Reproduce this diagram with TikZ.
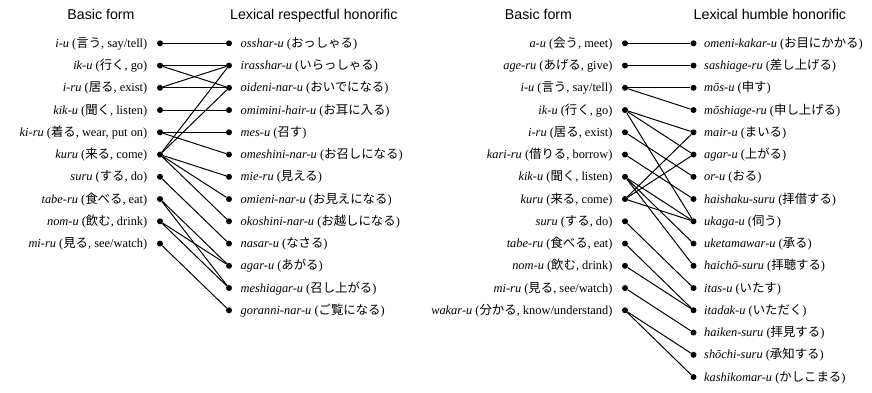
\documentclass[tikz,border=0pt]{standalone}
\usepackage{fontspec}
\setmainfont{Liberation Serif}
\newfontfamily\hdrfont{Liberation Sans}
\newfontfamily\cjkfont{Noto Sans CJK JP}
\newcommand{\jp}[1]{{\cjkfont #1}}
\begin{document}
\begin{tikzpicture}[x=1pt,y=-1pt,
  dot/.style={circle,fill=black,inner sep=0pt,minimum size=6pt},
  link/.style={line width=1pt},
  lbl/.style={inner sep=0pt,font=\fontsize{12.4}{14}\selectfont},
  lbll/.style={lbl,anchor=base east},
  lblr/.style={lbl,anchor=base west},
  hdr/.style={inner sep=0pt,anchor=base,font=\hdrfont\fontsize{14.2}{16}\selectfont}]
\useasboundingbox (0,0) rectangle (872,393);

% headers
\node[hdr] (h1) at (101,19.5) {Basic form};
\node[hdr,anchor=base west] (h2) at (230,19.5) {Lexical respectful honorific};
\node[hdr] (h3) at (538.5,19.5) {Basic form};
\node[hdr,anchor=base west] (h4) at (693.5,19.5) {Lexical humble honorific};

% ---------------- left panel ----------------
\node[dot] (a0) at (160,43.3) {};
\node[dot] (a1) at (160,65.55) {};
\node[dot] (a2) at (160,87.8) {};
\node[dot] (a3) at (160,110.05) {};
\node[dot] (a4) at (160,132.3) {};
\node[dot] (a5) at (160,154.55) {};
\node[dot] (a6) at (160,176.8) {};
\node[dot] (a7) at (160,199.05) {};
\node[dot] (a8) at (160,221.3) {};
\node[dot] (a9) at (160,243.55) {};

\node[lbll] (ta0) at (147.5,47.3) {\textit{i-u} (\jp{言う}, say/tell)};
\node[lbll] (ta1) at (147.5,69.55) {\textit{ik-u} (\jp{行く}, go)};
\node[lbll] (ta2) at (147.5,91.8) {\textit{i-ru} (\jp{居る}, exist)};
\node[lbll] (ta3) at (147.5,114.05) {\textit{kik-u} (\jp{聞く}, listen)};
\node[lbll] (ta4) at (147.5,136.3) {\textit{ki-ru} (\jp{着る}, wear, put on)};
\node[lbll] (ta5) at (147.5,158.55) {\textit{kuru} (\jp{来る}, come)};
\node[lbll] (ta6) at (147.5,180.8) {\textit{suru} (\jp{する}, do)};
\node[lbll] (ta7) at (147.5,203.05) {\textit{tabe-ru} (\jp{食べる}, eat)};
\node[lbll] (ta8) at (147.5,225.3) {\textit{nom-u} (\jp{飲む}, drink)};
\node[lbll] (ta9) at (147.5,247.55) {\textit{mi-ru} (\jp{見る}, see/watch)};

\node[dot] (b0) at (229,43.3) {};
\node[dot] (b1) at (229,65.55) {};
\node[dot] (b2) at (229,87.8) {};
\node[dot] (b3) at (229,110.05) {};
\node[dot] (b4) at (229,132.3) {};
\node[dot] (b5) at (229,154.55) {};
\node[dot] (b6) at (229,176.8) {};
\node[dot] (b7) at (229,199.05) {};
\node[dot] (b8) at (229,221.3) {};
\node[dot] (b9) at (229,243.55) {};
\node[dot] (b10) at (229,265.8) {};
\node[dot] (b11) at (229,288.05) {};
\node[dot] (b12) at (229,310.3) {};

\node[lblr] (tb0) at (240.5,47.3) {\textit{osshar-u} (\jp{おっしゃる})};
\node[lblr] (tb1) at (240.5,69.55) {\textit{irasshar-u} (\jp{いらっしゃる})};
\node[lblr] (tb2) at (240.5,91.8) {\textit{oideni-nar-u} (\jp{おいでになる})};
\node[lblr] (tb3) at (240.5,114.05) {\textit{omimini-hair-u} (\jp{お耳に入る})};
\node[lblr] (tb4) at (240.5,136.3) {\textit{mes-u} (\jp{召す})};
\node[lblr] (tb5) at (240.5,158.55) {\textit{omeshini-nar-u} (\jp{お召しになる})};
\node[lblr] (tb6) at (240.5,180.8) {\textit{mie-ru} (\jp{見える})};
\node[lblr] (tb7) at (240.5,203.05) {\textit{omieni-nar-u} (\jp{お見えになる})};
\node[lblr] (tb8) at (240.5,225.3) {\textit{okoshini-nar-u} (\jp{お越しになる})};
\node[lblr] (tb9) at (240.5,247.55) {\textit{nasar-u} (\jp{なさる})};
\node[lblr] (tb10) at (240.5,269.8) {\textit{agar-u} (\jp{あがる})};
\node[lblr] (tb11) at (240.5,292.05) {\textit{meshiagar-u} (\jp{召し上がる})};
\node[lblr] (tb12) at (240.5,314.3) {\textit{goranni-nar-u} (\jp{ご覧になる})};

\foreach \s/\t in {a0/b0,a1/b1,a1/b2,a2/b1,a2/b2,a3/b3,a4/b4,a4/b5,
  a5/b1,a5/b2,a5/b6,a5/b7,a5/b8,a6/b9,a7/b10,a7/b11,a8/b10,a8/b11,a9/b12}
  \draw[link] (\s) -- (\t);

% ---------------- right panel ----------------
\node[dot] (c0) at (625,43.3) {};
\node[dot] (c1) at (625,65.55) {};
\node[dot] (c2) at (625,87.8) {};
\node[dot] (c3) at (625,110.05) {};
\node[dot] (c4) at (625,132.3) {};
\node[dot] (c5) at (625,154.55) {};
\node[dot] (c6) at (625,176.8) {};
\node[dot] (c7) at (625,199.05) {};
\node[dot] (c8) at (625,221.3) {};
\node[dot] (c9) at (625,243.55) {};
\node[dot] (c10) at (625,265.8) {};
\node[dot] (c11) at (625,288.05) {};
\node[dot] (c12) at (625,310.3) {};

\node[lbll] (tc0) at (612.7,47.3) {\textit{a-u} (\jp{会う}, meet)};
\node[lbll] (tc1) at (612.7,69.55) {\textit{age-ru} (\jp{あげる}, give)};
\node[lbll] (tc2) at (612.7,91.8) {\textit{i-u} (\jp{言う}, say/tell)};
\node[lbll] (tc3) at (612.7,114.05) {\textit{ik-u} (\jp{行く}, go)};
\node[lbll] (tc4) at (612.7,136.3) {\textit{i-ru} (\jp{居る}, exist)};
\node[lbll] (tc5) at (612.7,158.55) {\textit{kari-ru} (\jp{借りる}, borrow)};
\node[lbll] (tc6) at (612.7,180.8) {\textit{kik-u} (\jp{聞く}, listen)};
\node[lbll] (tc7) at (612.7,203.05) {\textit{kuru} (\jp{来る}, come)};
\node[lbll] (tc8) at (612.7,225.3) {\textit{suru} (\jp{する}, do)};
\node[lbll] (tc9) at (612.7,247.55) {\textit{tabe-ru} (\jp{食べる}, eat)};
\node[lbll] (tc10) at (612.7,269.8) {\textit{nom-u} (\jp{飲む}, drink)};
\node[lbll] (tc11) at (612.7,292.05) {\textit{mi-ru} (\jp{見る}, see/watch)};
\node[lbll] (tc12) at (612.7,314.3) {\textit{wakar-u} (\jp{分かる}, know/understand)};

\node[dot] (d0) at (693.5,43.3) {};
\node[dot] (d1) at (693.5,65.55) {};
\node[dot] (d2) at (693.5,87.8) {};
\node[dot] (d3) at (693.5,110.05) {};
\node[dot] (d4) at (693.5,132.3) {};
\node[dot] (d5) at (693.5,154.55) {};
\node[dot] (d6) at (693.5,176.8) {};
\node[dot] (d7) at (693.5,199.05) {};
\node[dot] (d8) at (693.5,221.3) {};
\node[dot] (d9) at (693.5,243.55) {};
\node[dot] (d10) at (693.5,265.8) {};
\node[dot] (d11) at (693.5,288.05) {};
\node[dot] (d12) at (693.5,310.3) {};
\node[dot] (d13) at (693.5,332.55) {};
\node[dot] (d14) at (693.5,354.8) {};
\node[dot] (d15) at (693.5,377.05) {};

\node[lblr] (td0) at (704,47.3) {\textit{omeni-kakar-u} (\jp{お目にかかる})};
\node[lblr] (td1) at (704,69.55) {\textit{sashiage-ru} (\jp{差し上げる})};
\node[lblr] (td2) at (704,91.8) {\textit{mōs-u} (\jp{申す})};
\node[lblr] (td3) at (704,114.05) {\textit{mōshiage-ru} (\jp{申し上げる})};
\node[lblr] (td4) at (704,136.3) {\textit{mair-u} (\jp{まいる})};
\node[lblr] (td5) at (704,158.55) {\textit{agar-u} (\jp{上がる})};
\node[lblr] (td6) at (704,180.8) {\textit{or-u} (\jp{おる})};
\node[lblr] (td7) at (704,203.05) {\textit{haishaku-suru} (\jp{拝借する})};
\node[lblr] (td8) at (704,225.3) {\textit{ukaga-u} (\jp{伺う})};
\node[lblr] (td9) at (704,247.55) {\textit{uketamawar-u} (\jp{承る})};
\node[lblr] (td10) at (704,269.8) {\textit{haichō-suru} (\jp{拝聴する})};
\node[lblr] (td11) at (704,292.05) {\textit{itas-u} (\jp{いたす})};
\node[lblr] (td12) at (704,314.3) {\textit{itadak-u} (\jp{いただく})};
\node[lblr] (td13) at (704,336.55) {\textit{haiken-suru} (\jp{拝見する})};
\node[lblr] (td14) at (704,358.8) {\textit{shōchi-suru} (\jp{承知する})};
\node[lblr] (td15) at (704,381.05) {\textit{kashikomar-u} (\jp{かしこまる})};

\foreach \s/\t in {c0/d0,c1/d1,c2/d2,c2/d3,c3/d4,c3/d5,c3/d8,c4/d6,c5/d7,
  c6/d8,c6/d9,c6/d10,c7/d4,c7/d5,c7/d8,c8/d11,c9/d12,c10/d12,c11/d13,c12/d14,c12/d15}
  \draw[link] (\s) -- (\t);
\end{tikzpicture}
\end{document}
